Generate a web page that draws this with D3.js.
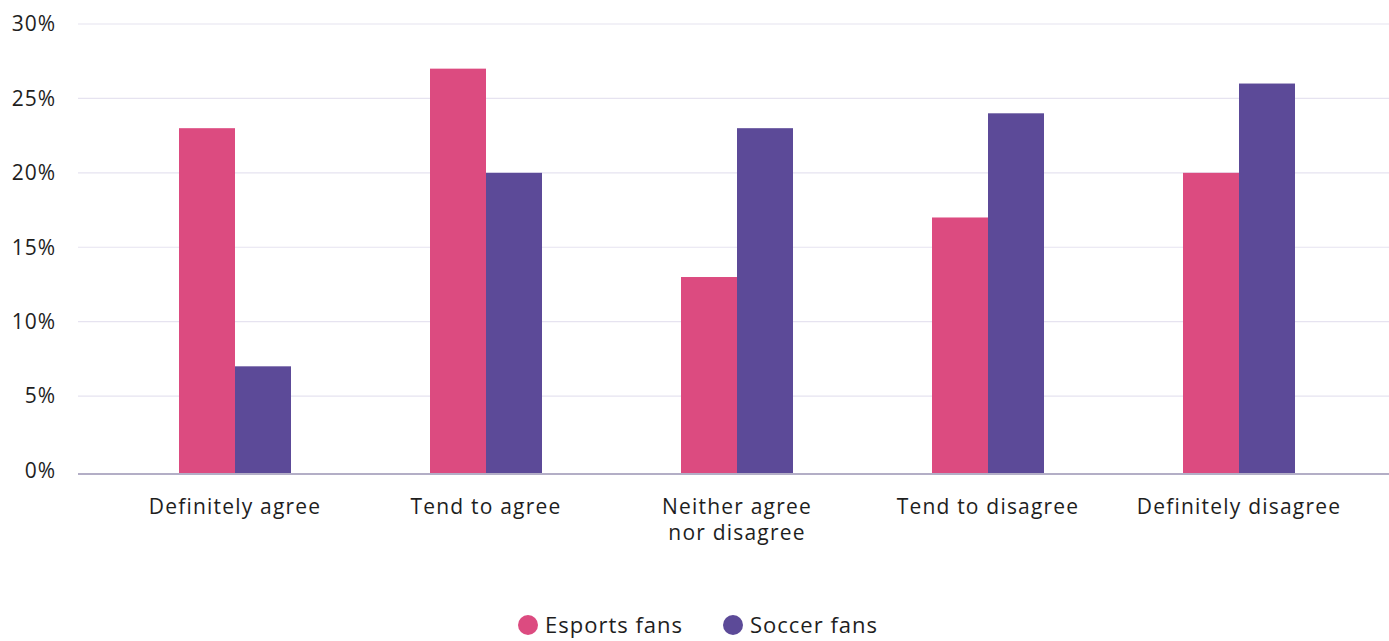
<!DOCTYPE html>
<html>
<head>
<meta charset="utf-8">
<script src="https://cdn.jsdelivr.net/npm/d3@7"></script>
<style>
html,body{margin:0;padding:0;background:#fff;}
svg text{font-family:"Open Sans",sans-serif;fill:#1e1e1e;}
</style>
</head>
<body>
<svg id="chart" width="1389" height="641"></svg>
<script>
const categories = [["Definitely agree"], ["Tend to agree"], ["Neither agree", "nor disagree"], ["Tend to disagree"], ["Definitely disagree"]];
const seriesNames = ["Esports fans", "Soccer fans"];
const esports = [23, 27, 13, 17, 20];
const soccer = [7, 20, 23, 24, 26];
const yTicks = [0, 5, 10, 15, 20, 25, 30];
const colors = ["#dc4b80", "#5c4a98"];

const svg = d3.select("#chart");
const catKeys = categories.map(c => c.join(" "));
const x = d3.scaleBand().domain(catKeys).range([109.5, 1364.5]).padding(0);
const barW = 56;
const y = d3.scaleLinear().domain([0, 30]).range([470.5, 24]);
const base = y(0) + 2.5;

// gridlines
svg.append("g").selectAll("line").data(yTicks.filter(t => t > 0)).join("line")
  .attr("x1", 78).attr("x2", 1389)
  .attr("y1", d => y(d)).attr("y2", d => y(d))
  .attr("stroke", "#e6e3f0").attr("stroke-width", 1.2);

// y tick labels
svg.append("g").selectAll("text").data(yTicks).join("text")
  .attr("x", 56).attr("y", d => y(d)).attr("dy", "0.35em")
  .attr("text-anchor", "end").attr("font-size", 21).attr("letter-spacing", 1)
  .text(d => d + "%");

// bars
const series = [esports, soccer];
series.forEach((vals, si) => {
  svg.append("g").selectAll("rect").data(vals).join("rect")
    .attr("x", (d, i) => x(catKeys[i]) + x.bandwidth() / 2 + (si === 0 ? -barW : 0))
    .attr("width", barW)
    .attr("y", d => y(d))
    .attr("height", d => base - y(d))
    .attr("fill", colors[si]);
});

// baseline
svg.append("line").attr("x1", 78).attr("x2", 1389)
  .attr("y1", base + 1).attr("y2", base + 1)
  .attr("stroke", "#b3aec6").attr("stroke-width", 2);

// category labels
const cl = svg.append("g").selectAll("text").data(categories).join("text")
  .attr("x", (d, i) => x(catKeys[i]) + x.bandwidth() / 2)
  .attr("y", 514).attr("text-anchor", "middle").attr("font-size", 21).attr("letter-spacing", 1.2);
cl.selectAll("tspan").data(d => d).join("tspan")
  .attr("x", function() { return d3.select(this.parentNode).attr("x"); })
  .attr("dy", (d, i) => i === 0 ? 0 : 26)
  .text(d => d);

// legend
const legX = [528, 733];
const legY = 625;
const lg = svg.append("g").selectAll("g").data(seriesNames).join("g");
lg.append("circle").attr("cx", (d, i) => legX[i]).attr("cy", legY).attr("r", 10)
  .attr("fill", (d, i) => colors[i]);
lg.append("text").attr("x", (d, i) => legX[i] + 17).attr("y", legY).attr("dy", "0.35em")
  .attr("font-size", 22).attr("letter-spacing", 1).text(d => d);
</script>
</body>
</html>
